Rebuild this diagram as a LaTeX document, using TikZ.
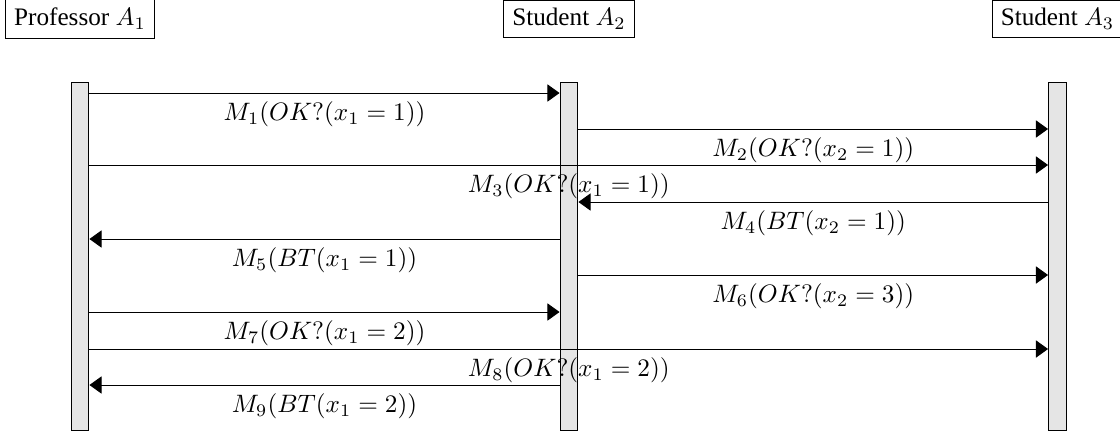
\documentclass[tikz,border=0pt]{standalone}
\usepackage{amsmath,amssymb}
\usepackage{fontspec}
\setmainfont{Liberation Serif}
\usetikzlibrary{arrows.meta,calc}

\tikzset{
  agent/.style = {draw, inner sep = 3.3pt},
  life/.style = {draw, fill = gray!20, minimum width = 7.1pt, minimum height = 137.8pt, inner sep = 0pt},
  msg/.style = {-{Triangle[length = 4.8pt, width = 6.8pt]}},
}

\begin{document}
\begin{tikzpicture}[x = 0.397pt, y = -0.397pt]
        \useasboundingbox(0,0)rectangle(1120,436);
        % agents
        \node[agent](h1)at(80,19){Professor $A_1$};
        \node[agent](h2)at(569,19){Student $A_2$};
        \node[agent](h3)at(1057.5,19){Student $A_3$};
        % lifelines
        \node[life](b1)at(80,256.5){};
        \node[life](b2)at(569,256.5){};
        \node[life](b3)at(1057.5,256.5){};
        % messages
        \path[draw, msg](b1.east |- 0,93)to node[below]{$M_1(OK?(x_1 = 1))$}(b2.west |- 0,93);
        \path[draw, msg](b2.east |- 0,129)to node[below]{$M_2(OK?(x_2 = 1))$}(b3.west |- 0,129);
        \path[draw, msg](b1.east |- 0,165)to node[below]{$M_3(OK?(x_1 = 1))$}(b3.west |- 0,165);
        \path[draw, msg](b3.west |- 0,202)to node[below]{$M_4(BT(x_2 = 1))$}(b2.east |- 0,202);
        \path[draw, msg](b2.west |- 0,239)to node[below]{$M_5(BT(x_1 = 1))$}(b1.east |- 0,239);
        \path[draw, msg](b2.east |- 0,275)to node[below]{$M_6(OK?(x_2 = 3))$}(b3.west |- 0,275);
        \path[draw, msg](b1.east |- 0,312)to node[below]{$M_7(OK?(x_1 = 2))$}(b2.west |- 0,312);
        \path[draw, msg](b1.east |- 0,349)to node[below]{$M_8(OK?(x_1 = 2))$}(b3.west |- 0,349);
        \path[draw, msg](b2.west |- 0,385)to node[below]{$M_9(BT(x_1 = 2))$}(b1.east |- 0,385);
\end{tikzpicture}
\end{document}
